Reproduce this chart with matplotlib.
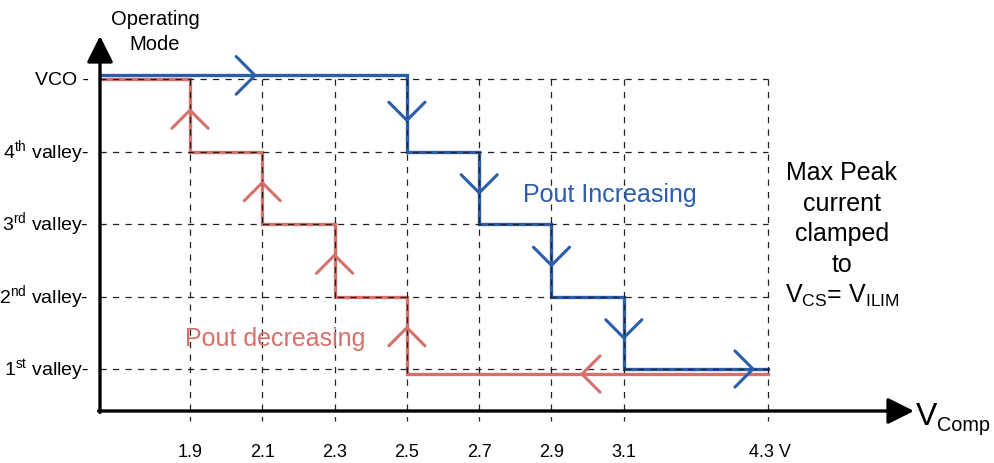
import matplotlib.pyplot as plt

plt.rcParams['font.family'] = ['Liberation Sans', 'DejaVu Sans']
plt.rcParams['mathtext.fontset'] = 'custom'
plt.rcParams['mathtext.rm'] = 'Liberation Sans'
plt.rcParams['mathtext.it'] = 'Liberation Sans:italic'

# x axis: Vcomp tick values and the slot each one sits in (4.3 V is two slots out)
vcomp = ['1.9', '2.1', '2.3', '2.5', '2.7', '2.9', '3.1', '4.3']
vcomp_slot = [1, 2, 3, 4, 5, 6, 7, 9]
vcomp_labels = ['1.9', '2.1', '2.3', '2.5', '2.7', '2.9', '3.1', '4.3 V']

# y axis: operating modes, bottom to top
modes = ['1$^{\\mathrm{st}}$ valley', '2$^{\\mathrm{nd}}$ valley', '3$^{\\mathrm{rd}}$ valley',
         '4$^{\\mathrm{th}}$ valley', 'VCO']
levels = [1, 2, 3, 4, 5]

# Pout increasing: VCO -> 1st valley, switching at these Vcomp values
blue_switch = ['2.5', '2.7', '2.9', '3.1']
# Pout decreasing: 1st valley -> VCO, switching at these Vcomp values (right to left)
red_switch = ['2.5', '2.3', '2.1', '1.9']

right_note = ['Max Peak', 'current', 'clamped', 'to',
              'V$_{\\mathrm{CS}}$= V$_{\\mathrm{ILIM}}$']

BLUE = '#2B5DAA'
RED = '#D4716B'

# pixel -> data helpers for layout
def xp(px):
    return (px - 190) / 72.3 + 1

def yp(py):
    return 1 + (370 - py) / 72.5

slot = dict(zip(vcomp, vcomp_slot))
x0, y0 = xp(100), yp(412)

fig = plt.figure(figsize=(9.95, 4.64), dpi=100)
ax = fig.add_axes([0, 0, 1, 1])
ax.set_xlim(xp(0), xp(995))
ax.set_ylim(yp(464), yp(0))
ax.axis('off')

# blue path (slightly lifted on the VCO row)
bx, by = [x0], [levels[-1] + 0.05]
lvl = levels[-1] + 0.05
for i, s in enumerate(blue_switch):
    new = levels[-2 - i]
    bx += [slot[s], slot[s]]
    by += [lvl, new]
    lvl = new
bx.append(slot['4.3'])
by.append(lvl)
ax.plot(bx, by, color=BLUE, lw=2.4, zorder=2, solid_joinstyle='miter')

# red path (slightly lowered on the 1st valley row), drawn right to left
rx, ry = [slot['4.3']], [levels[0] - 0.07]
lvl = levels[0] - 0.07
for i, s in enumerate(red_switch):
    new = levels[1 + i]
    rx += [slot[s], slot[s]]
    ry += [lvl, new]
    lvl = new
rx.append(x0)
ry.append(lvl)
ax.plot(rx, ry, color=RED, lw=2.4, zorder=1.9, solid_joinstyle='miter')

# dashed grid
for lv in levels:
    ax.plot([x0, slot['4.3']], [lv, lv], color='#222222', lw=0.9,
            dashes=(5, 5), zorder=3)
for s in vcomp_slot:
    ax.plot([s, s], [levels[-1], yp(422)], color='#222222', lw=0.9,
            dashes=(5, 5), zorder=3)

# chevrons
def chevron(x, y, d, color, a=0.26):
    if d == 'down':
        xs, ys = [x - a, x, x + a], [y + a, y, y + a]
    elif d == 'up':
        xs, ys = [x - a, x, x + a], [y - a, y, y - a]
    elif d == 'right':
        xs, ys = [x - a, x, x - a], [y + a, y, y - a]
    else:
        xs, ys = [x + a, x, x + a], [y + a, y, y - a]
    ax.plot(xs, ys, color=color, lw=2.2, zorder=4, solid_capstyle='round')

chevron(xp(255), levels[-1] + 0.05, 'right', BLUE)
for i, s in enumerate(blue_switch):
    chevron(slot[s], levels[-2 - i] + 0.43, 'down', BLUE, 0.25)
chevron(xp(753), levels[0], 'right', BLUE, 0.25)
for i, s in enumerate(red_switch):
    chevron(slot[s], levels[i] + 0.57, 'up', RED, 0.25)
chevron(xp(582), levels[0] - 0.07, 'left', RED, 0.25)

# axes with arrowheads
arrow = dict(arrowstyle='-|>,head_length=0.8,head_width=0.4', lw=2.4,
             color='black', shrinkA=0, shrinkB=0, mutation_scale=20)
ax.annotate('', xy=(xp(914), y0), xytext=(x0 - 0.02, y0), arrowprops=arrow, zorder=5)
ax.annotate('', xy=(x0, yp(37)), xytext=(x0, y0 - 0.02), arrowprops=arrow, zorder=5)

# tick labels
for lv, m in zip(levels, modes):
    lab = m + ' -' if m == 'VCO' else m + '-'
    ax.text(xp(89), lv - 0.075, lab, ha='right', va='baseline', fontsize=14)
for s, lab in zip(vcomp_slot, vcomp_labels):
    tx = s + 0.02 if lab.endswith('V') else s
    ax.text(tx, yp(457), lab, ha='center', va='baseline', fontsize=13)

# titles and annotations
ax.text(xp(155), yp(25), 'Operating', ha='center', va='baseline', fontsize=14.5)
ax.text(xp(155), yp(50), 'Mode', ha='center', va='baseline', fontsize=14.5)
ax.text(xp(916), yp(425), 'V', ha='left', va='baseline', fontsize=23)
ax.text(xp(937), yp(431), 'Comp', ha='left', va='baseline', fontsize=14.3)
ax.text(xp(523), yp(202), 'Pout Increasing', color=BLUE, ha='left', va='baseline', fontsize=18)
ax.text(xp(185), yp(346), 'Pout decreasing', color=RED, ha='left', va='baseline', fontsize=18)
for i, line in enumerate(right_note):
    ax.text(xp(842), yp(180 + 30.7 * i), line, ha='center', va='baseline', fontsize=18)

fig.savefig('out.png', dpi=100)
